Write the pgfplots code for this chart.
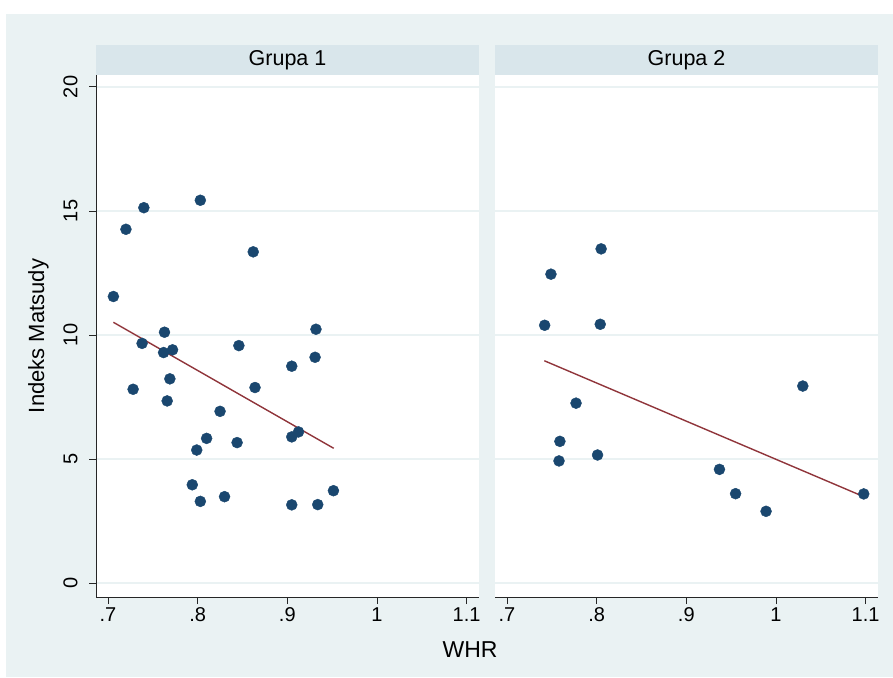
\documentclass[border=0pt]{standalone}
\usepackage{pgfplots}
\pgfplotsset{compat=1.18}
\usepackage{fontspec}
\setmainfont{Liberation Sans}
\definecolor{bgc}{HTML}{EAF2F3}
\definecolor{stripc}{HTML}{D9E6EB}
\definecolor{gridc}{HTML}{EAF2F3}
\definecolor{navyc}{HTML}{1A476F}
\definecolor{maroonc}{HTML}{90353B}
\pgfplotsset{
  panel/.style={
    scale only axis, width=383pt, height=522pt,
    xmin=0.6866, xmax=1.1139, ymin=-0.565, ymax=20.48,
    axis x line*=bottom, axis y line*=left,
    xtick={0.7,0.8,0.9,1,1.1}, xticklabels={.7,.8,.9,1,1.1},
    ytick={0,5,10,15,20},
    ymajorgrids, grid style={gridc, line width=1.5pt},
    tick align=outside, major tick length=7pt,
    tick style={black!85, line width=0.8pt},
    axis line style={black!85, line width=0.9pt, -},
    ticklabel style={font=\fontsize{20}{20}\selectfont},
    /pgf/number format/assume math mode=true,
    axis background/.style={fill=white},
    every axis title/.style={at={(0.5,1)}, anchor=south, fill=stripc, minimum width=383pt,
      minimum height=30pt, inner sep=0pt, font=\fontsize{21.5}{21.5}\selectfont},
    clip=false,
  },
  pts/.style={only marks, mark=*, mark size=5.5pt, mark options={fill=navyc, draw=navyc}},
  fit/.style={maroonc, line width=1.4pt, no marks},
}
\pgfplotstableread{
x y
0.706 11.55
0.720 14.26
0.740 15.13
0.803 15.43
0.862 13.35
0.763 10.11
0.738 9.66
0.762 9.29
0.772 9.40
0.846 9.57
0.769 8.23
0.728 7.81
0.864 7.88
0.766 7.34
0.825 6.92
0.810 5.83
0.844 5.66
0.932 10.23
0.931 9.10
0.905 8.74
0.799 5.36
0.905 5.89
0.9125 6.09
0.794 3.96
0.803 3.29
0.830 3.48
0.905 3.15
0.934 3.16
0.9515 3.72
}\groupone
\pgfplotstableread{
x y
0.805 13.47
0.749 12.45
0.742 10.39
0.804 10.43
1.030 7.94
0.777 7.25
0.759 5.71
0.758 4.92
0.801 5.16
0.937 4.58
0.955 3.60
0.989 2.89
1.098 3.59
}\grouptwo
\begin{document}
\begin{tikzpicture}
\useasboundingbox (0,0) rectangle (893pt,677pt);
\fill[white] (0,0) rectangle (893pt,677pt);
\fill[bgc] (6pt,0) rectangle (893pt,663pt);
\begin{axis}[panel, at={(96pt,80pt)}, anchor=south west,
  title={Grupa 1},
  ylabel={Indeks Matsudy},
  ylabel style={at={(axis description cs:-0.15,0.5)}, anchor=center, font=\fontsize{22}{22}\selectfont},
  yticklabels={0,5,10,15,20},
  yticklabel style={xshift=-8pt, rotate=90, anchor=south},
]
\addplot[pts] table[x=x,y=y] {\groupone};
\addplot[fit] coordinates {(0.706,10.51) (0.9518,5.43)};
\end{axis}
\begin{axis}[panel, at={(495pt,80pt)}, anchor=south west,
  title={Grupa 2},
  yticklabels={},
  y axis line style={draw=none},
  ytick style={draw=none},
]
\addplot[pts] table[x=x,y=y] {\grouptwo};
\addplot[fit] coordinates {(0.7416,8.96) (1.098,3.48)};
\end{axis}
\node[font=\fontsize{23}{23}\selectfont] at (470pt,27pt) {WHR};
\end{tikzpicture}
\end{document}
